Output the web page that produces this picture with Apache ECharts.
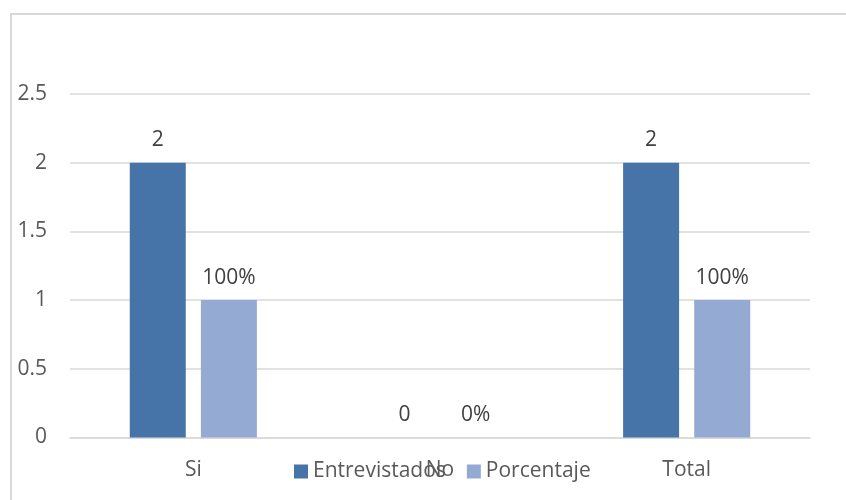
<!DOCTYPE html>
<html>
<head>
<meta charset="utf-8">
<script src="https://cdn.jsdelivr.net/npm/echarts@6/dist/echarts.min.js"></script>
<style>
  html, body { margin: 0; padding: 0; background: #fff; }
  #wrap { position: relative; width: 846px; height: 500px; overflow: hidden; }
  #chart { width: 846px; height: 500px; }
  /* marco del gráfico (sólo se ven borde izquierdo y superior) */
  #frame {
    position: absolute; left: 10px; top: 13px; width: 900px; height: 600px;
    border-left: 2px solid #d9d9d9; border-top: 2px solid #d9d9d9;
    pointer-events: none;
  }
</style>
</head>
<body>
<div id="wrap">
  <div id="chart"></div>
  <div id="frame"></div>
</div>
<script>
// datos
const categorias = ['Si', 'No', 'Total'];
const entrevistados = [2, 0, 2];
const porcentaje = [1, 0, 1];
const etiquetasPorcentaje = ['100%', '0%', '100%'];

const fuente = '"Open Sans", "Noto Sans", sans-serif';

const chart = echarts.init(document.getElementById('chart'));
chart.setOption({
  animation: false,
  textStyle: { fontFamily: fuente },
  grid: { left: 70, right: 36, top: 94, bottom: 62.5 },
  legend: {
    data: ['Entrevistados', 'Porcentaje'],
    left: 289,
    top: 456,
    icon: 'rect',
    itemWidth: 14,
    itemHeight: 14,
    itemGap: 21,
    textStyle: { fontSize: 21, color: '#595959', fontFamily: fuente }
  },
  xAxis: {
    type: 'category',
    data: categorias,
    axisLine: { lineStyle: { color: '#d9d9d9', width: 1.5 } },
    axisTick: { show: false },
    axisLabel: { fontSize: 21, color: '#595959', margin: 22, fontFamily: fuente }
  },
  yAxis: {
    type: 'value',
    min: 0,
    max: 2.5,
    interval: 0.5,
    axisLine: { show: false },
    axisTick: { show: false },
    splitLine: { lineStyle: { color: '#d9d9d9', width: 1.5 } },
    axisLabel: { fontSize: 21, color: '#595959', margin: 23, fontFamily: fuente }
  },
  series: [
    {
      name: 'Entrevistados',
      type: 'bar',
      data: entrevistados,
      barWidth: 56,
      barGap: '27%',
      itemStyle: { color: '#4673a8' },
      label: {
        show: true, position: 'top', distance: 12,
        fontSize: 21, color: '#404040', fontFamily: fuente
      }
    },
    {
      name: 'Porcentaje',
      type: 'bar',
      data: porcentaje,
      barWidth: 56,
      itemStyle: { color: '#95aad2' },
      label: {
        show: true, position: 'top', distance: 12,
        fontSize: 21, color: '#404040', fontFamily: fuente,
        formatter: p => etiquetasPorcentaje[p.dataIndex]
      }
    }
  ]
});
</script>
</body>
</html>
